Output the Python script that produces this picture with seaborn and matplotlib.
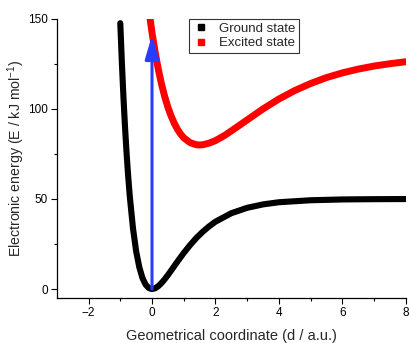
import pandas as pd
import matplotlib
matplotlib.use("Agg")
import matplotlib.pyplot as plt
from matplotlib.lines import Line2D
import seaborn as sns

# ground state curve
groundX = [-1.0, -0.95, -0.9, -0.85, -0.8, -0.75, -0.7, -0.6, -0.5, -0.4, -0.3, -0.2, -0.1,
           0.0, 0.1, 0.2, 0.3, 0.4, 0.5, 0.6, 0.8, 1.0, 1.2, 1.4, 1.6, 1.8, 2.0,
           2.5, 3.0, 3.5, 4.0, 5.0, 6.0, 7.0, 8.0]
groundE = [147.6, 125.7, 106.5, 89.7, 75.1, 62.4, 51.4, 33.8, 21.0, 12.1, 6.1, 2.45, 0.55,
           0.0, 0.45, 1.64, 3.36, 5.43, 7.74, 10.2, 15.2, 20.0, 24.4, 28.4, 31.8, 34.8, 37.4,
           42.1, 45.1, 47.0, 48.2, 49.3, 49.75, 49.9, 49.97]

# excited state curve
excitedX = [-0.1, 0.0, 0.1, 0.2, 0.3, 0.4, 0.5, 0.6, 0.7, 0.8, 0.9, 1.0, 1.2, 1.4, 1.5,
            1.6, 1.8, 2.0, 2.3, 2.6, 3.0, 3.5, 4.0, 4.5, 5.0, 5.5, 6.0, 6.5, 7.0, 7.5, 8.0]
excitedE = [155.1, 142.4, 131.4, 121.9, 113.8, 106.9, 101.0, 96.2, 92.1, 88.8, 86.1, 84.0,
            81.3, 80.1, 80.0, 80.1, 81.0, 82.4, 85.4, 89.0, 93.9, 100.0, 105.5, 110.2,
            114.1, 117.4, 120.0, 122.1, 123.8, 125.1, 126.2]

# vertical excitation arrow
arrowX = 0.0
arrowFrom = 0.0
arrowTo = 141.0

sns.set_theme(style="ticks")
plt.rcParams['font.family'] = ['Liberation Sans', 'DejaVu Sans']
plt.rcParams['mathtext.fontset'] = 'custom'
plt.rcParams['mathtext.rm'] = 'Liberation Sans'

dfG = pd.DataFrame({'x': groundX, 'E': groundE})
dfE = pd.DataFrame({'x': excitedX, 'E': excitedE})

fig = plt.figure(figsize=(4.09, 3.43), dpi=100)
ax = fig.add_axes([0.139, 0.131, 0.853, 0.814])

sns.lineplot(data=dfG, x='x', y='E', color='black', linewidth=4.4, ax=ax, sort=False)
sns.lineplot(data=dfE, x='x', y='E', color='#ff0000', linewidth=5.0, ax=ax, sort=False)

ax.annotate('', xy=(arrowX, arrowTo), xytext=(arrowX, arrowFrom),
            arrowprops=dict(arrowstyle='-|>,head_width=0.35,head_length=1.2',
                            color='#2a3cff', lw=2.2, shrinkA=0, shrinkB=0))

ax.set_xlim(-3, 8)
ax.set_ylim(-5, 150)
ax.set_xticks([-2, 0, 2, 4, 6, 8])
ax.set_xticks([-1, 1, 3, 5, 7], minor=True)
ax.set_yticks([0, 50, 100, 150])
ax.set_yticks([25, 75, 125], minor=True)
ax.tick_params(which='major', direction='out', length=4.5, width=0.8, labelsize=8.5,
               colors='black', pad=2)
ax.tick_params(which='minor', direction='out', length=2.5, width=0.8, color='black')
sns.despine(ax=ax)
for s in ['left', 'bottom']:
    ax.spines[s].set_linewidth(0.9)
    ax.spines[s].set_color('black')

ax.set_xlabel('Geometrical coordinate (d / a.u.)', fontsize=10.5, labelpad=7)
ax.set_ylabel(r'Electronic energy (E / kJ mol$^{\mathregular{-1}}$)', fontsize=10.2, labelpad=1)

handles = [Line2D([], [], marker='s', color='black', linestyle='none', markersize=5),
           Line2D([], [], marker='s', color='#ff0000', linestyle='none', markersize=5)]
leg = ax.legend(handles, ['Ground state', 'Excited state'], loc='upper left',
                bbox_to_anchor=(0.378, 1.0), fontsize=9.5, frameon=True, fancybox=False,
                shadow=False, borderpad=0.3, labelspacing=0.15, handletextpad=0.8,
                handlelength=1.2, borderaxespad=0.0)
leg.get_frame().set_edgecolor('black')
leg.get_frame().set_linewidth(0.8)

fig.savefig('out.png', dpi=100)
